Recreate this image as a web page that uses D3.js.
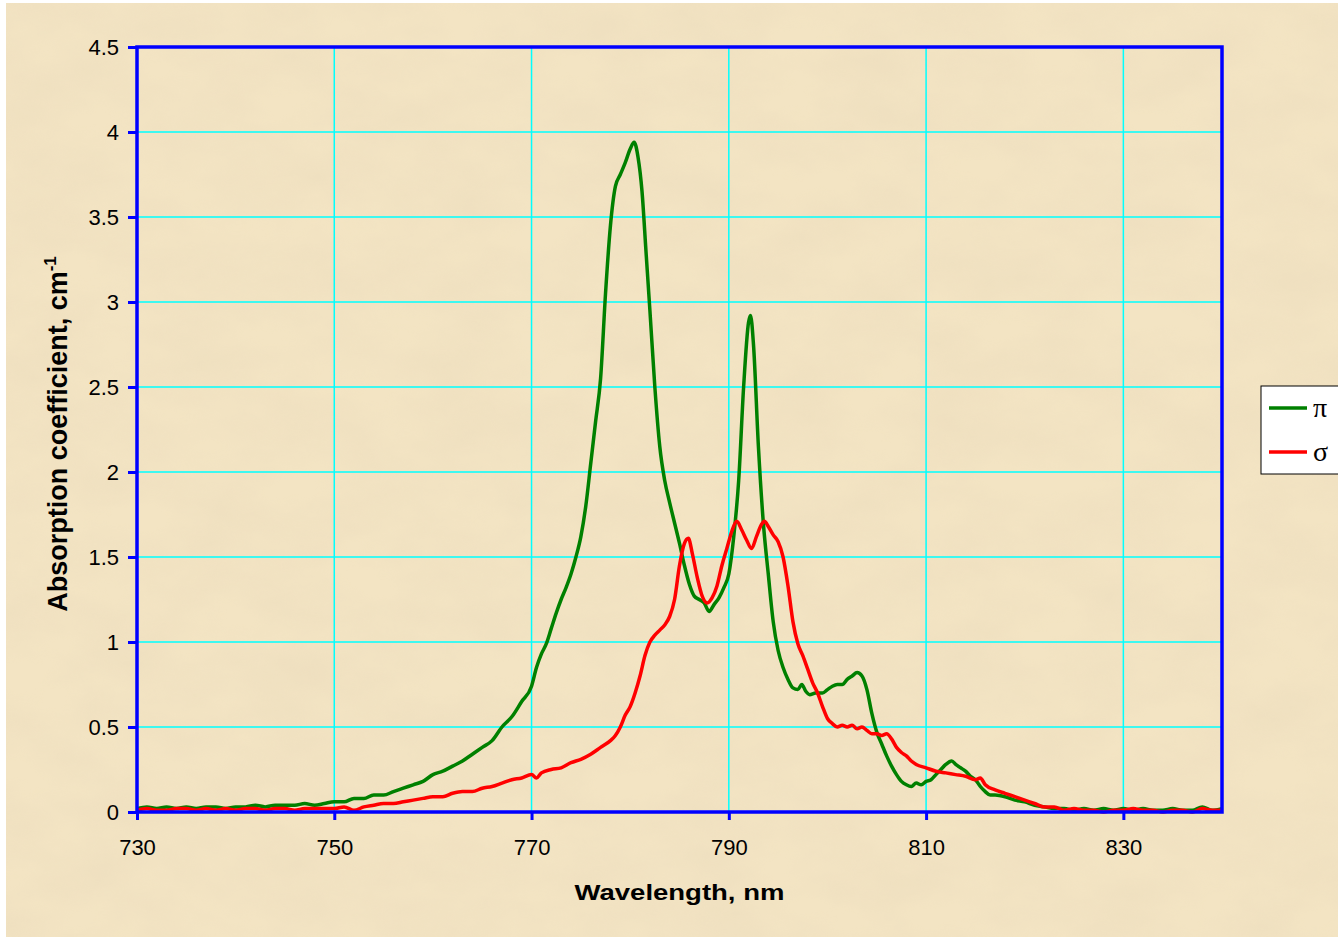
<!DOCTYPE html>
<html>
<head>
	<title>Absorption spectrum</title>
	<script src="https://cdn.jsdelivr.net/npm/d3@7/dist/d3.min.js" charset="utf-8"></script>
	<style>
		body { margin: 0; background: #ffffff; }
		text { font-family: "Liberation Sans", Arial, sans-serif; }
	</style>
</head>
<body>
<script type="text/javascript">
	// pi polarization (wavelength nm, absorption cm^-1)
	var piData = [
		[730,0.02],[731,0.03],[732,0.02],[733,0.03],[734,0.02],[735,0.03],[736,0.02],[737,0.03],[738,0.03],[739,0.02],
		[740,0.03],[741,0.03],[742,0.04],[743,0.03],[744,0.04],[745,0.04],[746,0.04],[747,0.05],[748,0.04],[749,0.05],
		[750,0.06],[751,0.06],[752,0.08],[753,0.08],[754,0.10],[755,0.10],[756,0.12],[757,0.14],[758,0.16],[759,0.18],
		[760,0.22],[761,0.24],[762,0.27],[763,0.30],[764,0.34],[765,0.38],[766,0.42],[767,0.50],[768,0.56],[769,0.65],
		[770,0.74],[770.5,0.85],[771,0.93],[771.5,0.99],[772,1.08],[772.5,1.17],[773,1.25],[773.5,1.32],[774,1.40],
		[774.5,1.50],[775,1.62],[775.5,1.80],[776,2.05],[776.5,2.30],[777,2.55],[777.5,3.05],[778,3.45],[778.5,3.68],
		[779,3.75],[779.5,3.82],[780,3.90],[780.4,3.94],[780.8,3.85],[781.2,3.65],[781.6,3.30],[782,2.95],[782.5,2.50],
		[783,2.15],[783.5,1.95],[784,1.82],[784.5,1.70],[785,1.58],[785.5,1.45],[786,1.34],[786.5,1.27],[787,1.25],
		[787.5,1.23],[788,1.18],[788.5,1.22],[789,1.26],[789.5,1.32],[790,1.40],[790.5,1.62],[791,1.95],[791.5,2.50],
		[792,2.88],[792.2,2.92],[792.5,2.75],[793,2.15],[793.5,1.70],[794,1.40],[794.5,1.12],[795,0.95],[795.5,0.85],
		[796,0.78],[796.5,0.73],[797,0.72],[797.4,0.75],[797.8,0.71],[798.2,0.69],[798.8,0.70],[799.5,0.70],[800,0.72],
		[800.5,0.74],[801,0.75],[801.5,0.75],[802,0.78],[802.5,0.80],[803,0.82],[803.5,0.80],[804,0.72],[804.5,0.58],
		[805,0.47],[805.5,0.40],[806,0.33],[806.5,0.27],[807,0.22],[807.5,0.18],[808,0.16],[808.5,0.15],[809,0.17],
		[809.5,0.16],[810,0.18],[810.5,0.19],[811,0.22],[811.5,0.25],[812,0.28],[812.6,0.30],[813,0.28],[813.5,0.26],
		[814,0.24],[814.5,0.21],[815,0.19],[815.5,0.15],[816,0.12],[816.5,0.10],[817,0.10],[818,0.09],[819,0.07],
		[820,0.06],[821,0.04],[822,0.03],[823,0.02],[824,0.02],[825,0.01],[826,0.02],[827,0.01],[828,0.02],[829,0.01],
		[830,0.02],[831,0.01],[832,0.02],[833,0.01],[834,0.01],[835,0.02],[836,0.01],[837,0.01],[838,0.03],[839,0.01],[840,0.02]
	];

	// sigma polarization
	var sigmaData = [
		[730,0.01],[731,0.02],[732,0.01],[733,0.01],[734,0.02],[735,0.02],[736,0.01],[737,0.02],[738,0.01],[739,0.02],
		[740,0.01],[741,0.02],[742,0.02],[743,0.01],[744,0.02],[745,0.02],[746,0.01],[747,0.02],[748,0.02],[749,0.02],
		[750,0.02],[751,0.03],[752,0.01],[753,0.03],[754,0.04],[755,0.05],[756,0.05],[757,0.06],[758,0.07],[759,0.08],
		[760,0.09],[761,0.09],[762,0.11],[763,0.12],[764,0.12],[765,0.14],[766,0.15],[767,0.17],[768,0.19],[769,0.20],
		[770,0.22],[770.5,0.20],[771,0.23],[772,0.25],[773,0.26],[774,0.29],[775,0.31],[776,0.34],[777,0.38],[778,0.42],
		[778.5,0.45],[779,0.50],[779.5,0.57],[780,0.62],[780.5,0.70],[781,0.80],[781.5,0.92],[782,1.00],[782.5,1.04],
		[783,1.07],[783.5,1.10],[784,1.15],[784.5,1.25],[785,1.45],[785.5,1.58],[785.9,1.61],[786.3,1.52],[786.8,1.38],
		[787.3,1.27],[787.8,1.23],[788.3,1.26],[788.8,1.33],[789.3,1.45],[789.8,1.55],[790.3,1.65],[790.8,1.71],
		[791.3,1.66],[791.8,1.60],[792.3,1.55],[792.8,1.62],[793.3,1.69],[793.6,1.71],[794,1.68],[794.5,1.63],[795,1.59],
		[795.5,1.50],[796,1.33],[796.5,1.12],[797,0.99],[797.5,0.92],[798,0.84],[798.5,0.76],[799,0.70],[799.5,0.62],
		[800,0.55],[800.5,0.52],[801,0.50],[801.5,0.51],[802,0.50],[802.5,0.51],[803,0.49],[803.5,0.50],[804,0.48],
		[804.5,0.46],[805,0.46],[805.5,0.45],[806,0.46],[806.5,0.43],[807,0.38],[807.5,0.35],[808,0.33],[808.5,0.30],
		[809,0.28],[810,0.26],[811,0.24],[812,0.23],[813,0.22],[814,0.21],[815,0.19],[815.5,0.20],[816,0.16],[817,0.13],
		[818,0.11],[819,0.09],[820,0.07],[821,0.05],[822,0.03],[823,0.03],[824,0.01],[825,0.02],[826,0.01],[827,0.01],
		[828,0.00],[829,0.01],[830,0.01],[831,0.02],[832,0.01],[833,0.01],[834,0.00],[835,0.01],[836,0.01],[837,0.00],
		[838,0.02],[839,0.01],[840,0.01]
	];

	var xTicks = [730, 750, 770, 790, 810, 830];
	var yTicks = [0, 0.5, 1, 1.5, 2, 2.5, 3, 3.5, 4, 4.5];
	var legendLabels = ["\u03c0", "\u03c3"];
	var seriesColors = ["#008000", "#ff0000"];

	var svgWidth = 1338, svgHeight = 937;

	var svg = d3.select("body")
		.append("svg")
		.attr("width", svgWidth)
		.attr("height", svgHeight);

	// parchment-like background
	var defs = svg.append("defs");
	var filt = defs.append("filter").attr("id", "paper")
		.attr("x", 0).attr("y", 0).attr("width", "100%").attr("height", "100%");
	filt.append("feTurbulence")
		.attr("type", "fractalNoise").attr("baseFrequency", "0.012 0.02")
		.attr("numOctaves", 4).attr("seed", 7).attr("result", "noise");
	filt.append("feColorMatrix").attr("in", "noise").attr("type", "matrix")
		.attr("values", "0 0 0 0 0.82  0 0 0 0 0.70  0 0 0 0 0.50  1.2 0 0 0 -0.35")
		.attr("result", "tint");
	filt.append("feComposite").attr("in", "tint").attr("in2", "SourceGraphic").attr("operator", "in");

	svg.append("rect")
		.attr("x", 6).attr("y", 3).attr("width", svgWidth - 6).attr("height", svgHeight - 3)
		.attr("fill", "#f3e4c3");
	svg.append("rect")
		.attr("x", 6).attr("y", 3).attr("width", svgWidth - 6).attr("height", svgHeight - 3)
		.attr("fill", "#f3e4c3")
		.attr("filter", "url(#paper)")
		.attr("opacity", 0.6);

	var margin = {top: 47, right: 116, bottom: 125, left: 137},
		width = svgWidth - margin.left - margin.right,
		height = svgHeight - margin.top - margin.bottom;

	var g = svg.append("g")
		.attr("transform", "translate(" + margin.left + "," + margin.top + ")");

	var x = d3.scaleLinear().domain([730, 840]).range([0, width]),
		y = d3.scaleLinear().domain([0, 4.5]).range([height, 0]);

	// gridlines
	g.append("g").selectAll("line")
		.data(yTicks.slice(1, -1))
		.enter().append("line")
		.attr("x1", 0).attr("x2", width)
		.attr("y1", function(d) { return y(d); })
		.attr("y2", function(d) { return y(d); })
		.attr("stroke", "#00ffff").attr("stroke-width", 1.5);

	g.append("g").selectAll("line")
		.data(xTicks.slice(1))
		.enter().append("line")
		.attr("y1", 0).attr("y2", height)
		.attr("x1", function(d) { return x(d); })
		.attr("x2", function(d) { return x(d); })
		.attr("stroke", "#00ffff").attr("stroke-width", 1.5);

	var line = d3.line()
		.curve(d3.curveMonotoneX)
		.x(function(d) { return x(d[0]); })
		.y(function(d) { return y(d[1]); });

	[piData, sigmaData].forEach(function(data, i) {
		g.append("path")
			.datum(data)
			.attr("fill", "none")
			.attr("stroke", seriesColors[i])
			.attr("stroke-width", 3.5)
			.attr("stroke-linejoin", "round")
			.attr("d", line);
	});

	// axes
	var xAxis = d3.axisBottom(x).tickValues(xTicks).tickSize(8).tickPadding(19).tickFormat(d3.format("d"));
	var yAxis = d3.axisLeft(y).tickValues(yTicks).tickSize(9).tickPadding(9).tickFormat(function(d) { return d; });

	var gx = g.append("g")
		.attr("transform", "translate(0," + height + ")")
		.call(xAxis);
	var gy = g.append("g").call(yAxis);

	[gx, gy].forEach(function(ax) {
		ax.select(".domain").remove();
		ax.selectAll(".tick line").attr("stroke", "#0000ff").attr("stroke-width", 3);
		ax.selectAll(".tick text")
			.attr("fill", "#000")
			.style("font-size", "22px")
			.style("font-family", "'Liberation Sans', Arial, sans-serif");
	});

	// plot border
	g.append("rect")
		.attr("x", 0).attr("y", 0).attr("width", width).attr("height", height)
		.attr("fill", "none").attr("stroke", "#0000ff").attr("stroke-width", 3.5);

	// axis titles
	svg.append("text")
		.attr("transform", "translate(" + (margin.left + width / 2) + ",900) scale(1.25,1)")
		.attr("text-anchor", "middle")
		.style("font-size", "22px").style("font-weight", "bold")
		.text("Wavelength, nm");

	var yt = svg.append("text")
		.attr("transform", "translate(67,434) rotate(-90)")
		.attr("text-anchor", "middle")
		.style("font-size", "27px").style("font-weight", "bold");
	yt.append("tspan").text("Absorption coefficient, cm");
	yt.append("tspan").attr("dy", -11).style("font-size", "17px").text("-1");

	// legend
	var legend = svg.append("g").attr("transform", "translate(1261,386)");
	legend.append("rect")
		.attr("width", 80).attr("height", 88)
		.attr("fill", "#ffffff").attr("stroke", "#000").attr("stroke-width", 1);
	legendLabels.forEach(function(lbl, i) {
		var yy = 22 + i * 44;
		legend.append("line")
			.attr("x1", 8).attr("x2", 46).attr("y1", yy).attr("y2", yy)
			.attr("stroke", seriesColors[i]).attr("stroke-width", 3.5);
		legend.append("text")
			.attr("x", 52).attr("y", yy + 9)
			.style("font-family", "'Liberation Serif', 'Times New Roman', serif")
			.style("font-size", "28px")
			.text(lbl);
	});
</script>
</body>
</html>
